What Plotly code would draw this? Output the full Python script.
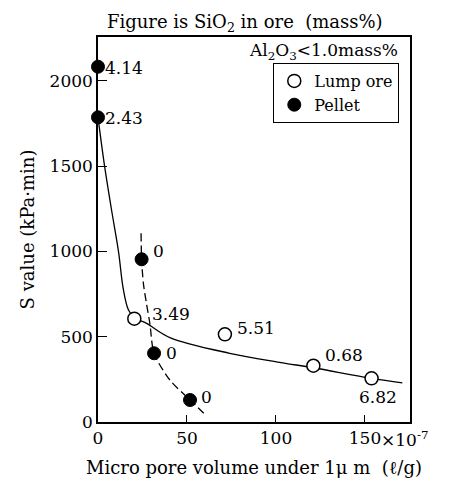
import plotly.graph_objects as go

# ---- data ----
lump_x = [20.4, 71.3, 121, 153.7]
lump_y = [606, 514, 330, 256]
lump_sio2 = ["3.49", "5.51", "0.68", "6.82"]

pellet_x = [0, 0, 24.5, 31.5, 51.7]
pellet_y = [2083, 1786, 954, 403, 129]
pellet_sio2 = ["4.14", "2.43", "0", "0", "0"]

# fitted trend curves
lump_fit_x = [0, 3.7, 7.5, 11.5, 14.2, 17, 20.4, 27.3, 40.4, 74, 102, 121, 153.7, 171]
lump_fit_y = [1786, 1500, 1250, 1000, 780, 660, 612, 578, 495, 403, 350, 318, 256, 230]

pellet_fit_x = [24.2, 24.5, 25.5, 27.3, 29.2, 31.5, 40.4, 51.7, 61]
pellet_fit_y = [1106, 954, 813, 690, 574, 403, 246, 129, 35]

x_ticks = [0, 50, 100, 150]
x_ticktext = ["0", "50", "100", "150"]
y_ticks = [0, 500, 1000, 1500, 2000]

FONT = "DejaVu Serif"
FS = 17

# label offsets in pixels (dx, dy-up, anchor) — styling only
lump_label_style = [(16, 5, "left"), (10, 6, "left"), (10, 11, "left"), (6, -19, "center")]
pellet_label_style = [(5, -1, "left"), (5, -1, "left"), (9, 8, "left"), (10, 0, "left"), (9, 3, "left")]

fig = go.Figure()

fig.add_trace(go.Scatter(
    x=lump_fit_x, y=lump_fit_y, mode="lines",
    line=dict(color="black", width=1.3, shape="spline", smoothing=1.0),
    showlegend=False, hoverinfo="skip"))

fig.add_trace(go.Scatter(
    x=pellet_fit_x, y=pellet_fit_y, mode="lines",
    line=dict(color="black", width=1.3, dash="8px,4px", shape="spline", smoothing=0.8),
    showlegend=False, hoverinfo="skip"))

fig.add_trace(go.Scatter(
    x=lump_x, y=lump_y, mode="markers", name="Lump ore",
    marker=dict(symbol="circle", size=13, color="white",
                line=dict(color="black", width=1.5)),
    cliponaxis=False))

fig.add_trace(go.Scatter(
    x=pellet_x, y=pellet_y, mode="markers", name="Pellet",
    marker=dict(symbol="circle", size=13, color="black",
                line=dict(color="black", width=1)),
    cliponaxis=False))

annotations = []
for xs, ys, labels, styles in [(lump_x, lump_y, lump_sio2, lump_label_style),
                               (pellet_x, pellet_y, pellet_sio2, pellet_label_style)]:
    for xv, yv, lab, (dx, dy, anc) in zip(xs, ys, labels, styles):
        annotations.append(dict(
            x=xv, y=yv, xref="x", yref="y", text=lab, showarrow=False,
            xanchor=anc, yanchor="middle", xshift=dx, yshift=dy,
            font=dict(family=FONT, size=FS, color="black")))

annotations += [
    dict(text="Al<sub>2</sub>O<sub>3</sub>&lt;1.0mass%", xref="paper", yref="paper",
         x=1.0, y=1.0, xanchor="right", yanchor="top", showarrow=False,
         font=dict(family=FONT, size=FS), xshift=-10, yshift=-1),
    dict(text="×10<sup>-7</sup>", xref="x", yref="paper",
         x=150, y=0, xanchor="left", yanchor="top", showarrow=False,
         font=dict(family=FONT, size=FS), xshift=14, yshift=-4),
]

# page body has an 8px default margin: figure is 441x475 placed at (8, 8)
fig.update_layout(
    width=441, height=475,
    margin=dict(l=90, r=39, t=29, b=61, autoexpand=False),
    paper_bgcolor="white", plot_bgcolor="white",
    font=dict(family=FONT, size=FS, color="black"),
    title=dict(text="Figure is SiO<sub>2</sub> in ore  (mass%)",
               x=0.537, xanchor="center", y=0.985, yanchor="top",
               font=dict(family=FONT, size=18)),
    showlegend=True,
    legend=dict(x=0.965, y=0.933, xanchor="right", yanchor="top",
                bgcolor="white", bordercolor="black", borderwidth=1.2,
                font=dict(family=FONT, size=16),
                itemwidth=30, tracegroupgap=0),
    annotations=annotations,
)

fig.update_xaxes(
    range=[0, 175.3], tickvals=x_ticks, ticktext=x_ticktext,
    ticks="inside", ticklen=7, tickcolor="black", tickwidth=1.2,
    showline=True, linecolor="black", linewidth=1.5, mirror=True,
    showgrid=False, zeroline=False, automargin=False,
    tickfont=dict(family=FONT, size=FS),
    title=dict(text="Micro pore volume under 1μ m  (ℓ/g)", standoff=14,
               font=dict(family=FONT, size=18)))

fig.update_yaxes(
    range=[0, 2257], tickvals=y_ticks,
    ticks="inside", ticklen=9, tickcolor="black", tickwidth=1.2,
    showline=True, linecolor="black", linewidth=1.5, mirror=True,
    showgrid=False, zeroline=False, automargin=False,
    tickfont=dict(family=FONT, size=FS),
    title=dict(text="S value (kPa·min)", standoff=10,
               font=dict(family=FONT, size=18)))

fig.write_html("out.html")
